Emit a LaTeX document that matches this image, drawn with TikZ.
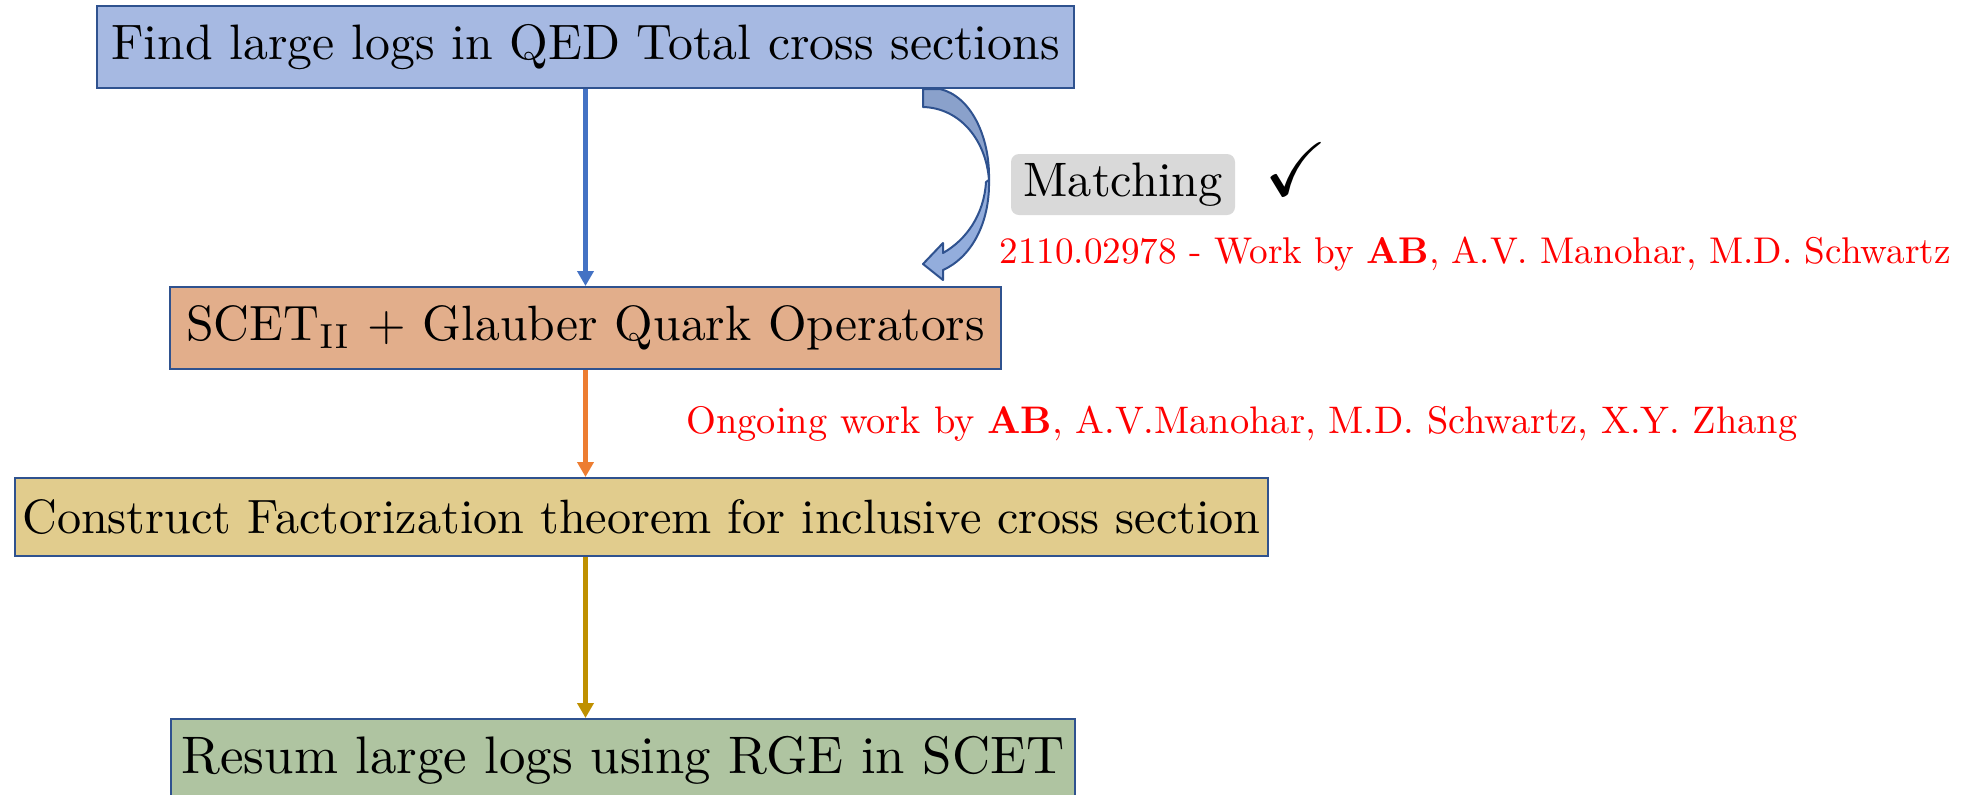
\documentclass[tikz,border=0pt]{standalone}
\usepackage{graphicx}
\usepackage{amssymb}
\usetikzlibrary{arrows.meta}

\definecolor{boxline}{HTML}{2F528F}
\definecolor{fillblue}{HTML}{A6B9E2}
\definecolor{fillsalmon}{HTML}{E2AE8B}
\definecolor{fillgold}{HTML}{E1CC8D}
\definecolor{fillgreen}{HTML}{AFC4A1}
\definecolor{arrblue}{HTML}{4472C4}
\definecolor{arrorange}{HTML}{ED7D31}
\definecolor{arrgold}{HTML}{BF9000}
\definecolor{curvedark}{HTML}{8AA1CB}
\definecolor{curvelight}{HTML}{93ADDC}
\definecolor{tagfill}{HTML}{D9D9D9}
\definecolor{notered}{HTML}{FF0000}

% large labels: 10pt design size, scaled up
\newcommand\boxlabel[2][2.42]{\scalebox{#1}{#2}}
\newcommand\notelabel[2][1.84]{\scalebox{#1}{#2}}

\begin{document}
\begin{tikzpicture}[x=0.5pt,y=-0.5pt,
  flowbox/.style={draw=boxline, line width=1pt, inner sep=0pt, anchor=center},
  flowarrow/.style={line width=2.2pt, -{Triangle[width=8pt,length=7.5pt]}},
  note/.style={text=notered, inner sep=0pt, anchor=base west},
]
\useasboundingbox (0,0) rectangle (1982,794);
\clip (0,0) rectangle (1982,794);

% flow boxes
\node[flowbox, fill=fillblue, minimum width=488.5pt, minimum height=41pt]
  (b1) at (585.5,47) {\boxlabel[2.49]{Find large logs in QED Total cross sections}};
\node[flowbox, fill=fillsalmon, minimum width=415.5pt, minimum height=41pt]
  (b2) at (585.5,328) {\boxlabel[2.48]{SCET$_{\mathrm{II}}$ + Glauber Quark Operators}};
\node[flowbox, fill=fillgold, minimum width=626.5pt, minimum height=39pt]
  (b3) at (641.5,517) {\boxlabel[2.41]{Construct Factorization theorem for inclusive cross section}};
\node[flowbox, fill=fillgreen, minimum width=452pt, minimum height=41pt]
  (b4) at (623,760) {\boxlabel[2.64]{Resum large logs using RGE in SCET}};

% straight connectors
\draw[flowarrow, arrblue] (b1.south) -- (b2.north);
\draw[flowarrow, arrorange] (b2.south) -- (b2.south |- b3.north);
\draw[flowarrow, arrgold] (b2.south |- b3.south) -- (b2.south |- b4.north);

% curved block arrow (matching step)
\filldraw[fill=curvelight, draw=boxline, line width=1pt, line join=round]
  (989,180) .. controls (990,225) and (970,258) .. (943,270)
  -- (943,280) -- (923,264) -- (943,243) -- (943,253)
  .. controls (966,240) and (984,215) .. (986,182) -- cycle;
\filldraw[fill=curvedark, draw=boxline, line width=1pt, line join=round]
  (923,89) -- (940,89) .. controls (970,96) and (990,135) .. (989,180)
  .. controls (986,140) and (960,108) .. (923,107) -- cycle;

% matching tag and check mark
\node[fill=tagfill, rounded corners=4pt, minimum width=112pt, minimum height=30.5pt,
  inner sep=0pt] (tag) at (1123,184.5) {\boxlabel{Matching}};
\node[inner sep=0pt] (check) at (1296,169) {\scalebox{3.8}{$\checkmark$}};

% references
\node[note] (ref1) at (999,263)
  {\notelabel[1.86]{2110.02978 - Work by \textbf{AB}, A.V. Manohar, M.D. Schwartz}};
\node[note] (ref2) at (686,433)
  {\notelabel[1.92]{Ongoing work by \textbf{AB}, A.V.Manohar, M.D. Schwartz, X.Y. Zhang}};
\end{tikzpicture}
\end{document}
